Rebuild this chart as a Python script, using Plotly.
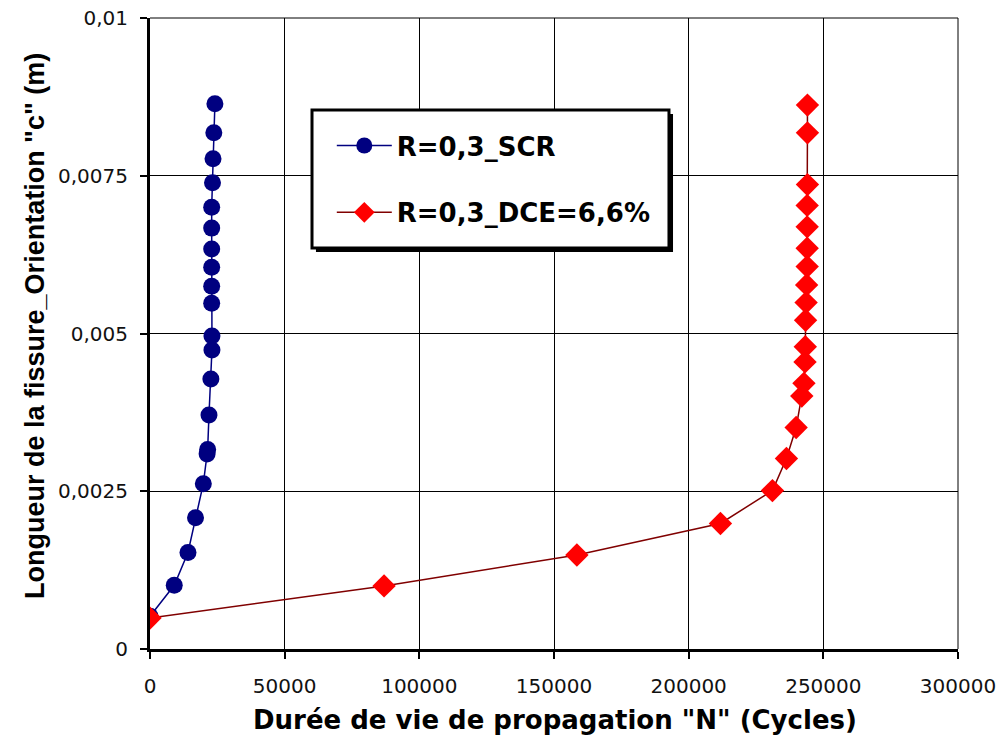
"""Longueur de fissure en fonction de la durée de vie (Plotly)."""

import plotly.graph_objects as go

# Série SCR (cercles bleus)
n_scr = [0, 9000, 14100, 16900, 19800, 21200, 21400, 21900, 22600, 23000,
         23000, 22900, 22900, 22900, 22900, 22900, 22900, 23200, 23400, 23700, 24100]
c_scr = [0.00052, 0.00101, 0.00153, 0.00208, 0.00262, 0.00309, 0.00316, 0.00371,
         0.00428, 0.00474, 0.00496, 0.00548, 0.00575, 0.00605, 0.00634, 0.00667,
         0.00700, 0.00739, 0.00777, 0.00818, 0.00864]

# Série DCE = 6,6 % (losanges rouges)
n_dce = [0, 86900, 158500, 211800, 231100, 236300, 239900, 242000, 242800,
         243200, 243300, 243400, 243600, 243800, 244000, 244000, 244000, 244000,
         244100, 244100, 244100]
c_dce = [0.00049, 0.00100, 0.00149, 0.00199, 0.00251, 0.00302, 0.00351, 0.00401,
         0.00421, 0.00455, 0.00479, 0.00521, 0.00549, 0.00577, 0.00606, 0.00635,
         0.00669, 0.00703, 0.00736, 0.00818, 0.00862]

x_ticks = [0, 50000, 100000, 150000, 200000, 250000, 300000]
x_labels = ["0", "50000", "100000", "150000", "200000", "250000", "300000"]
y_ticks = [0, 0.0025, 0.005, 0.0075, 0.01]
y_labels = ["0", "0,0025", "0,005", "0,0075", "0,01"]

BLEU = "#000080"
ROUGE = "#ff0000"
BORDEAUX = "#800000"

fig = go.Figure()
fig.add_trace(go.Scatter(
    x=n_scr, y=c_scr, mode="lines+markers", name="R=0,3_SCR",
    legendgroup="a",
    line=dict(color=BLEU, width=1.5),
    marker=dict(symbol="circle", size=17, color=BLEU),
))
fig.add_trace(go.Scatter(
    x=n_dce, y=c_dce, mode="lines+markers", name="R=0,3_DCE=6,6%",
    legendgroup="b",
    line=dict(color=BORDEAUX, width=1.5),
    marker=dict(symbol="diamond", size=18, color=ROUGE),
))

# bords haut et droit du cadre (grille aux extrémités)
fig.add_shape(type="line", xref="paper", yref="paper", x0=0, x1=1, y0=1, y1=1,
              line=dict(color="black", width=1))
fig.add_shape(type="line", xref="paper", yref="paper", x0=1, x1=1, y0=0, y1=1,
              line=dict(color="black", width=1))

# cadre de légende avec ombre
fig.add_shape(type="rect", xref="paper", yref="paper",
              x0=0.2054, x1=0.6473, y0=0.6292, y1=0.8479,
              fillcolor="#000000", line=dict(width=0), layer="above")
fig.add_shape(type="rect", xref="paper", yref="paper",
              x0=0.2005, x1=0.6423, y0=0.6355, y1=0.8542,
              fillcolor="white", line=dict(color="black", width=3), layer="above")

# titres des axes
fig.add_annotation(
    text='Durée de vie de propagation "N" (Cycles)',
    xref="paper", yref="paper", x=0.501, y=-0.1125, showarrow=False,
    xanchor="center", yanchor="middle",
    font=dict(family="DejaVu Sans", size=26, color="black", weight="bold"),
)
fig.add_annotation(
    text='Longueur de la fissure_Orientation "c" (m)',
    xref="paper", yref="paper", x=-0.1423, y=0.512, showarrow=False,
    xanchor="center", yanchor="middle", textangle=-90,
    font=dict(family="Liberation Sans", size=27, color="black", weight="bold"),
)

axis_common = dict(
    showgrid=True, gridcolor="black", gridwidth=1,
    showline=True, linecolor="black", linewidth=3,
    ticks="outside", ticklen=7, tickwidth=1.5, tickcolor="black",
    tickfont=dict(family="DejaVu Sans", size=20, color="#111111"),
    zeroline=False, tickmode="array", automargin=False,
)

fig.update_xaxes(range=[0, 300000], tickvals=x_ticks, ticktext=x_labels,
                 ticklabelstandoff=10, **axis_common)
fig.update_yaxes(range=[0, 0.01], tickvals=y_ticks, ticktext=y_labels,
                 ticklabelstandoff=8, **axis_common)

fig.update_layout(
    width=1002, height=742,
    plot_bgcolor="white", paper_bgcolor="white",
    margin=dict(l=150, r=44, t=18, b=93),
    legend=dict(
        x=0.225, y=0.835, xanchor="left", yanchor="top",
        bgcolor="rgba(0,0,0,0)", borderwidth=0,
        font=dict(family="DejaVu Sans", size=26, color="black", weight="bold"),
        itemwidth=55, tracegroupgap=30,
    ),
)

fig.write_html("out.html", config={"displayModeBar": False},
               post_script="document.body.style.margin='0px';")
